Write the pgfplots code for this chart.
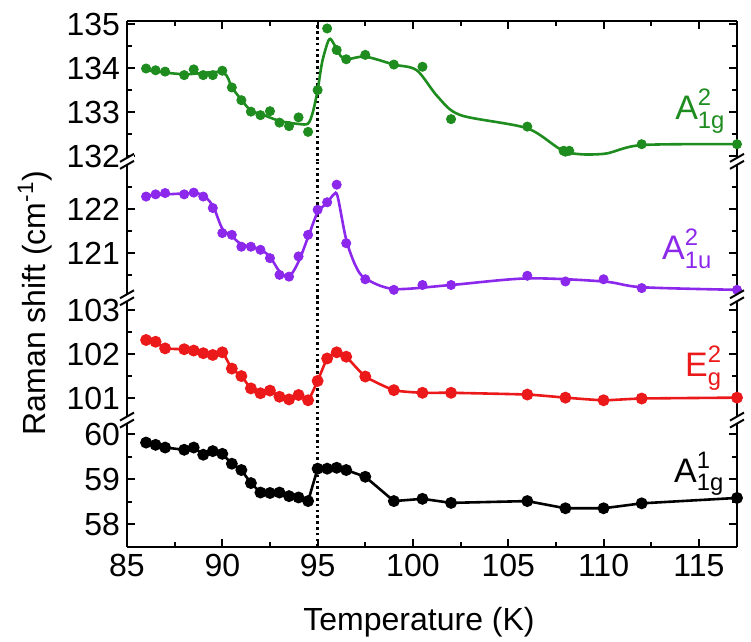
\documentclass[border=0pt]{standalone}
\usepackage{fontspec}
\setmainfont{Liberation Sans}
\usepackage{amsmath}
\usepackage{pgfplots}
\pgfplotsset{compat=1.18}

\definecolor{cg}{RGB}{30,140,30}
\definecolor{cp}{RGB}{140,40,235}
\definecolor{cr}{RGB}{235,25,25}

\pgfplotsset{
  panel/.style={
    scale only axis, width=305pt,
    xmin=85, xmax=117,
    xtick={85,90,...,115}, minor x tick num=1,
    axis line style={line width=1.3pt},
    every tick/.style={black, line width=1pt},
    major tick length=4pt, minor tick length=2.5pt,
    tick align=inside,
    /pgf/number format/assume math mode=true,
    ticklabel style={font=\fontsize{16}{16}\selectfont},
    clip=true,
  },
  pts/.style={only marks, mark=*, mark size=2.3pt, color=#1, mark options={draw=#1, fill=#1}},
  fit/.style={no marks, line width=1.3pt, color=#1, smooth, tension=0.5},
  vline/.style={black, line width=1.2pt, dash pattern=on 1.3pt off 1.6pt, no marks, forget plot},
}

\begin{document}
\begin{tikzpicture}
\useasboundingbox (-63.5pt,10.5pt) rectangle (312pt,-310.5pt);

% ---------- Panel 1: A1g^2 (green)
\begin{axis}[panel, at={(0pt,0pt)}, anchor=north west,
  height=70.18pt, ymin=131.88, ymax=135.07,
  axis x line*=top, xticklabel=\empty,
  ytick={132,133,134,135}, minor ytick={132.5,133.5,134.5}]
\addplot[vline] coordinates {(95,131.88) (95,135.07)};
\addplot[fit=cg] coordinates {
(86,133.95) (88,133.86) (90,133.9) (90.5,133.56) (91,133.28) (91.5,133.03) (92,132.96)
(93,132.8) (94,132.73) (94.5,132.74) (94.75,133.0) (95,133.5) (95.25,134.16) (95.6,134.65)
(95.85,134.55) (96.2,134.28) (96.55,134.2) (97.5,134.26) (99,134.08) (100.2,133.95)
(101.3,133.35) (102.5,132.93) (106,132.63) (108,132.1) (110,132.05) (112,132.25) (117,132.27)};
\addplot[pts=cg] coordinates {
(86,133.99) (86.5,133.95) (87,133.92) (88,133.84) (88.5,133.97) (89,133.84) (89.5,133.84)
(90,133.94) (90.5,133.56) (91,133.27) (91.5,133.01) (92,132.93) (92.5,133.02) (93,132.76)
(93.5,132.68) (94,132.88) (94.5,132.55) (95,133.5) (95.5,134.9) (96,134.41) (96.5,134.2)
(97.5,134.3) (99,134.08) (100.5,134.03) (102,132.84) (106,132.67) (107.9,132.12) (108,132.1)
(108.2,132.12) (112,132.27) (117,132.27)};
\node[cg, anchor=base west, font=\fontsize{17}{17}\selectfont, inner sep=0pt]
  at (axis cs:113.74,132.82) {$\text{A}^{\text{2}}_{\text{1g}}$};
\end{axis}

% ---------- Panel 2: A1u^2 (purple)
\begin{axis}[panel, at={(0pt,-70.18pt)}, anchor=north west,
  height=68.2pt, ymin=119.98, ymax=123.08,
  axis x line=none,
  ytick={121,122}, minor ytick={120.5,121.5,122.5}]
\addplot[vline] coordinates {(95,119.98) (95,123.08)};
\addplot[fit=cp] coordinates {
(86,122.3) (88,122.35) (88.9,122.33) (89.5,122.07) (90,121.55) (90.5,121.38) (91,121.2)
(92,121.07) (92.5,120.91) (93,120.58) (93.5,120.46) (94,120.8) (94.5,121.36) (95,121.92)
(95.5,122.14) (95.85,122.33) (96.05,122.28) (96.5,121.3) (97,120.7) (97.5,120.42)
(99,120.18) (102,120.27) (106,120.42) (110,120.35) (112,120.22) (117,120.16)};
\addplot[pts=cp] coordinates {
(86,122.28) (86.5,122.33) (87,122.36) (88,122.33) (88.5,122.37) (89,122.28) (89.5,122.02)
(90,121.45) (90.5,121.41) (91,121.14) (91.5,121.14) (92,121.07) (92.5,120.88) (93,120.5)
(93.5,120.46) (94,120.92) (94.5,121.41) (95,121.98) (95.5,122.15) (96,122.55) (96.5,121.22)
(97.5,120.4) (99,120.16) (100.5,120.27) (102,120.27) (106,120.48) (108,120.35) (110,120.4)
(112,120.2) (117,120.16)};
\node[cp, anchor=base west, font=\fontsize{17}{17}\selectfont, inner sep=0pt]
  at (axis cs:113.05,120.84) {$\text{A}^{\text{2}}_{\text{1u}}$};
\end{axis}

% ---------- Panel 3: Eg^2 (red)
\begin{axis}[panel, at={(0pt,-138.38pt)}, anchor=north west,
  height=61.16pt, ymin=100.5, ymax=103.28,
  axis x line=none,
  ytick={101,102,103}, minor ytick={101.5,102.5}]
\addplot[vline] coordinates {(95,100.5) (95,103.28)};
\addplot[cr, line width=1.3pt, mark=*, mark size=2.3pt, mark options={fill=cr}, smooth, tension=0.3] coordinates {
(86,102.32) (86.5,102.28) (87,102.13) (88,102.11) (88.5,102.08) (89,102.02) (89.5,101.98)
(90,102.04) (90.5,101.67) (91,101.5) (91.5,101.22) (92,101.11) (92.5,101.17) (93,101.03)
(93.5,100.97) (94,101.07) (94.5,100.95) (95,101.39) (95.5,101.9) (96,102.04) (96.5,101.94)
(97.5,101.49) (99,101.18) (100.5,101.12) (102,101.12) (106,101.08) (108,101.01) (110,100.95)
(112,100.99) (117,101.01)};
\node[cr, anchor=base west, font=\fontsize{17}{17}\selectfont, inner sep=0pt]
  at (axis cs:114.26,101.48) {$\text{E}^{\text{2}}_{\text{g}}$};
\end{axis}

% ---------- Panel 4: A1g^1 (black)
\begin{axis}[panel, at={(0pt,-199.54pt)}, anchor=north west,
  height=63.45pt, ymin=57.49, ymax=60.31,
  axis x line*=bottom,
  ytick={58,59,60}, minor ytick={57.5,58.5,59.5}]
\addplot[vline] coordinates {(95,57.49) (95,60.31)};
\addplot[black, line width=1.3pt, mark=*, mark size=2.3pt, mark options={fill=black}] coordinates {
(86,59.81) (86.5,59.76) (87,59.70) (88,59.65) (88.5,59.70) (89,59.54) (89.5,59.62)
(90,59.56) (90.5,59.34) (91,59.2) (91.5,58.91) (92,58.70) (92.5,58.69) (93,58.70)
(93.5,58.62) (94,58.59) (94.5,58.51) (95,59.23) (95.5,59.23) (96,59.25) (96.5,59.2)
(97.5,59.05) (99,58.51) (100.5,58.56) (102,58.47) (106,58.51) (108,58.35) (110,58.35)
(112,58.46) (117,58.58)};
\node[black, anchor=base west, font=\fontsize{17}{17}\selectfont, inner sep=0pt]
  at (axis cs:113.68,58.93) {$\text{A}^{\text{1}}_{\text{1g}}$};
\end{axis}

% ---------- axis breaks
\foreach \yb in {-70.18,-138.38,-199.54} {
  \foreach \xb in {0,305} {
    \fill[white] ({\xb pt-3.5pt},{\yb pt-3.75pt}) -- ({\xb pt+3.5pt},{\yb pt+0.25pt})
      -- ({\xb pt+3.5pt},{\yb pt+3.75pt}) -- ({\xb pt-3.5pt},{\yb pt-0.25pt}) -- cycle;
    \draw[line width=1pt] ({\xb pt-3.5pt},{\yb pt-3.75pt}) -- ({\xb pt+3.5pt},{\yb pt+0.25pt});
    \draw[line width=1pt] ({\xb pt-3.5pt},{\yb pt-0.25pt}) -- ({\xb pt+3.5pt},{\yb pt+3.75pt});
  }
}

% ---------- axis titles
\node[rotate=90, font=\fontsize{16}{16}\selectfont] at (-46pt,-141pt) {Raman shift (cm\textsuperscript{-1})};
\node[font=\fontsize{16}{16}\selectfont] at (146pt,-300.5pt) {Temperature (K)};
\end{tikzpicture}
\end{document}
